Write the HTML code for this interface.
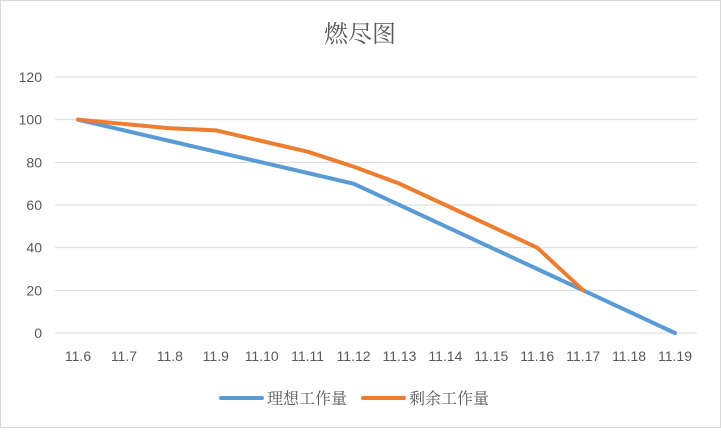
<!DOCTYPE html>
<html><head><meta charset="utf-8"><style>
body{margin:0;background:#fff;}
svg text{font-family:"Liberation Sans","Noto Sans CJK SC",sans-serif;}
</style></head><body>
<svg width="721" height="428" xmlns="http://www.w3.org/2000/svg">
<rect x="0.5" y="0.5" width="720" height="427" fill="#fff" stroke="#d9d9d9"/>
<text x="360" y="42" text-anchor="middle" font-size="24" fill="#595959" style="font-family:'Noto Serif CJK SC','Noto Sans CJK SC',serif">燃尽图</text>
<g id="grid"></g><g id="xt"></g><g id="lines"></g>
<g>
<line x1="221" y1="398" x2="262" y2="398" stroke="#5b9bd5" stroke-width="4" stroke-linecap="round"/>
<text x="267" y="404" font-size="16" fill="#595959" style="font-family:'Noto Serif CJK SC',serif">理想工作量</text>
<line x1="363" y1="398" x2="404" y2="398" stroke="#ed7d31" stroke-width="4" stroke-linecap="round"/>
<text x="409" y="404" font-size="16" fill="#595959" style="font-family:'Noto Serif CJK SC',serif">剩余工作量</text>
</g>
</svg>
<script>
const categories=["11.6","11.7","11.8","11.9","11.10","11.11","11.12","11.13","11.14","11.15","11.16","11.17","11.18","11.19"];
const idealValues=[100,95,90,85,80,75,70,60,50,40,30,20,10,0];
const remainingValues=[100,98,96,95,90,85,78,70,60,50,40,20];
const yTicks=[0,20,40,60,80,100,120];
const NS="http://www.w3.org/2000/svg";
const x=i=>78+i*(675-78)/13;
const y=v=>333-v*(333-77)/120;
function mk(tag,attrs,parent){const e=document.createElementNS(NS,tag);for(const k in attrs)e.setAttribute(k,attrs[k]);parent.appendChild(e);return e;}
const grid=document.getElementById('grid');
yTicks.forEach(t=>{
 const l=mk('line',{x1:55,x2:697,y1:y(t),y2:y(t),stroke:'#d9d9d9','stroke-width':1},grid);
 
 
 const tx=mk('text',{x:42,y:y(t)+5,'text-anchor':'end','font-size':14,fill:'#595959'},grid);
 tx.textContent=t;
 
 
});
const xt=document.getElementById('xt');
categories.forEach((c,i)=>{
 const tx=mk('text',{x:x(i),y:361,'text-anchor':'middle','font-size':14,fill:'#595959'},xt);
 tx.textContent=c;
 
 
});
const lines=document.getElementById('lines');
function series(vals,color,name){
 const p=mk('polyline',{points:vals.map((v,i)=>x(i)+','+y(v)).join(' '),fill:'none',stroke:color,'stroke-width':4,'stroke-linejoin':'round','stroke-linecap':'round'},lines);
 
 
}
series(idealValues,'#5b9bd5','ideal-line');
series(remainingValues,'#ed7d31','remaining-line');
</script>
</body></html>
